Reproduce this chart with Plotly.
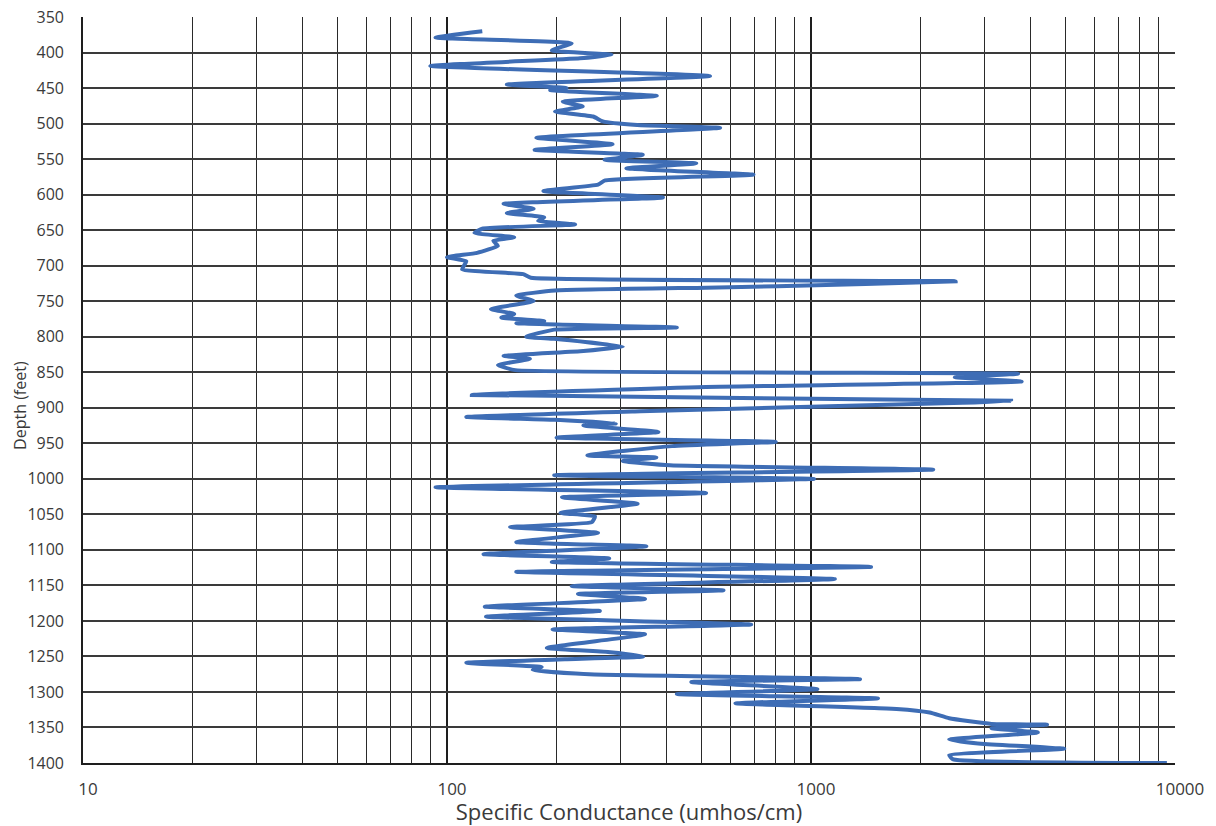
import plotly.graph_objects as go

# Specific conductance log: depth (feet) and conductance (umhos/cm)
depth_ft = [
    370, 379, 387, 397, 403, 408, 419, 433, 445, 450, 453, 461, 469, 476, 483, 490, 497, 502, 506,
    520, 529, 537, 544, 551, 556, 563, 572, 580, 586, 595, 604, 613, 620, 626, 632, 637, 642,
    648, 654, 660, 665, 672, 682, 688, 694, 705, 712, 717, 722, 729, 731, 735, 742, 750, 761,
    768, 773, 778, 781, 787, 790, 800, 803, 814, 820, 827, 831, 840, 847, 852, 857, 863, 871,
    882, 890, 893, 905, 913, 917, 922, 925, 934, 942, 948, 954, 967, 970, 975, 981, 987, 995,
    1000, 1012, 1020, 1026, 1035, 1048, 1053, 1061, 1068, 1076, 1089, 1095, 1106, 1112, 1117,
    1124, 1131, 1141, 1151, 1157, 1162, 1169, 1180, 1186, 1194, 1205, 1212, 1219, 1238, 1244,
    1250, 1254, 1259, 1265, 1269, 1275, 1282, 1286, 1296, 1303, 1309, 1316, 1324, 1329, 1337,
    1345, 1346, 1351, 1357, 1367, 1373, 1380, 1389, 1395, 1400,
]
conductance = [
    125, 93, 220, 194, 283, 232, 90, 528, 146, 213, 192, 377, 208, 236, 198, 252, 268, 333, 563,
    176, 285, 174, 345, 271, 484, 311, 695, 272, 260, 184, 392, 143, 173, 146, 185, 178, 225,
    125, 119, 153, 134, 138, 121, 100, 113, 110, 162, 170, 2497, 807, 514, 198, 155, 173, 132,
    153, 141, 185, 155, 428, 197, 165, 197, 304, 237, 143, 169, 138, 154, 3707, 2483, 3792, 489,
    117, 3546, 2614, 340, 113, 197, 291, 237, 381, 200, 800, 415, 243, 376, 304, 410, 2167, 197,
    1020, 93, 515, 207, 334, 205, 255, 250, 149, 260, 155, 353, 126, 279, 194,
    1463, 155, 1163, 220, 575, 229, 350, 127, 263, 128, 685, 195, 350, 188, 281,
    346, 211, 113, 182, 172, 246, 1364, 469, 1041, 428, 1528, 620, 1718, 2118, 2397,
    3132, 4451, 3132, 4200, 2397, 2930, 4965, 2397, 2460, 9500,
]

x_ticks = [10, 100, 1000, 10000]
x_minor = [m * d for d in (10, 100, 1000) for m in range(2, 10)]
depth_ticks = list(range(350, 1401, 50))

fig = go.Figure(
    go.Scatter(
        x=conductance,
        y=depth_ft,
        mode="lines",
        line=dict(color="#3E6DB5", width=4, shape="spline", smoothing=0.4),
        hoverinfo="skip",
    )
)

font_family = "Open Sans, DejaVu Sans, sans-serif"
label_color = "#3a3a3a"

fig.update_layout(
    width=1216,
    height=826,
    margin=dict(l=83, r=41, t=17, b=63),
    paper_bgcolor="white",
    plot_bgcolor="white",
    showlegend=False,
    font=dict(family=font_family, size=17, color=label_color),
)

fig.update_xaxes(
    type="log",
    range=[1, 4],
    automargin=False,
    tickvals=x_ticks,
    ticktext=[str(v) for v in x_ticks],
    ticklabelshift=5,
    ticklabelstandoff=10,
    showgrid=True,
    gridcolor="#1e1e1e",
    gridwidth=1.6,
    minor=dict(tickvals=x_minor, showgrid=True, gridcolor="#2a2a2a", gridwidth=1.2),
    showline=True,
    linecolor="#1e1e1e",
    linewidth=1.6,
    zeroline=False,
    ticks="",
    title=dict(text="Specific Conductance (umhos/cm)", font=dict(size=22, color=label_color), standoff=0),
    tickfont=dict(size=17, color=label_color),
)

fig.update_yaxes(
    range=[1400, 350],
    automargin=False,
    tickvals=depth_ticks,
    showgrid=True,
    gridcolor="#3a3a3a",
    gridwidth=1.8,
    showline=True,
    linecolor="#1e1e1e",
    linewidth=1.6,
    zeroline=False,
    ticks="",
    ticklabelstandoff=14,
    tickfont=dict(size=16, color=label_color),
)

# Vertical axis title placed just left of the depth labels
fig.add_annotation(
    text="Depth (feet)",
    xref="paper",
    yref="paper",
    x=-0.0577,
    y=0.48,
    xanchor="center",
    yanchor="middle",
    textangle=-90,
    showarrow=False,
    font=dict(size=16, color=label_color),
)

fig.write_html("out.html")
